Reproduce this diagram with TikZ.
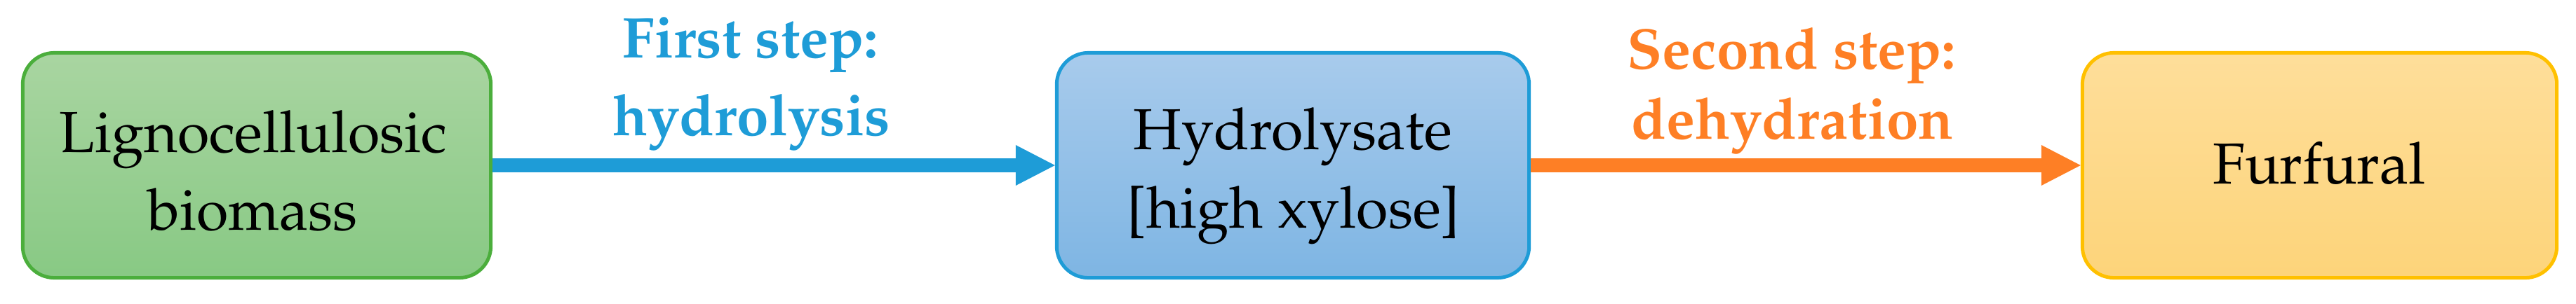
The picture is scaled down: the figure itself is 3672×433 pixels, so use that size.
\documentclass[tikz,border=0pt]{standalone}
\usepackage[T1]{fontenc}
\usepackage{mathpazo}
\usetikzlibrary{arrows.meta}
\definecolor{grnLine}{HTML}{4BAE3C}
\definecolor{grnTop}{HTML}{A9D5A1}
\definecolor{grnBot}{HTML}{88C984}
\definecolor{bluLine}{HTML}{1E9CD7}
\definecolor{bluTop}{HTML}{A8CBEC}
\definecolor{bluBot}{HTML}{7EB5E3}
\definecolor{ylwLine}{HTML}{FFC000}
\definecolor{ylwTop}{HTML}{FEDE9A}
\definecolor{ylwBot}{HTML}{FDD47A}
\definecolor{orgArrow}{HTML}{FE7F25}
\begin{document}
\begin{tikzpicture}[x=0.01cm, y=-0.01cm,
  box/.style={draw, line width=1.42pt, rounded corners=0.45cm, inner sep=0pt, minimum height=3.21cm},
  txt/.style={anchor=base, inner sep=0pt, font=\fontsize{23.5}{28}\selectfont},
  lbl/.style={anchor=base, inner sep=0pt, font=\fontsize{23.3}{28}\selectfont\bfseries},
  flow/.style={line width=0.2cm, -{Triangle[length=0.56cm,width=0.58cm,line width=0pt]}}]
\useasboundingbox (0,0) rectangle (3672,433);
\node[box, draw=grnLine, top color=grnTop, bottom color=grnBot, minimum width=6.67cm] (b1) at (366,236) {};
\node[box, draw=bluLine, top color=bluTop, bottom color=bluBot, minimum width=6.73cm] (b2) at (1843,236) {};
\node[box, draw=ylwLine, top color=ylwTop, bottom color=ylwBot, minimum width=6.76cm] (b3) at (3306.5,236) {};
\draw[flow, bluLine] (b1.east) -- (b2.west);
\draw[flow, orgArrow] (b2.east) -- (b3.west);
% box texts
\node[txt] (t1a) at (361,217) {Lignocellulosic};
\node[txt] (t1b) at (360,328) {biomass};
\node[txt] (t2a) at (1843,213) {Hydrolysate};
\node[txt] (t2b) at (1844,325) {[high xylose]};
\node[txt] (t3) at (3306,262) {Furfural};
% arrow labels
\node[lbl, text=bluLine] (l1a) at (1070,82) {First step:};
\node[lbl, text=bluLine] (l1b) at (1071,193) {hydrolysis};
\node[lbl, text=orgArrow] (l2a) at (2554,98) {Second step:};
\node[lbl, text=orgArrow] (l2b) at (2555,198) {dehydration};
\end{tikzpicture}
\end{document}
